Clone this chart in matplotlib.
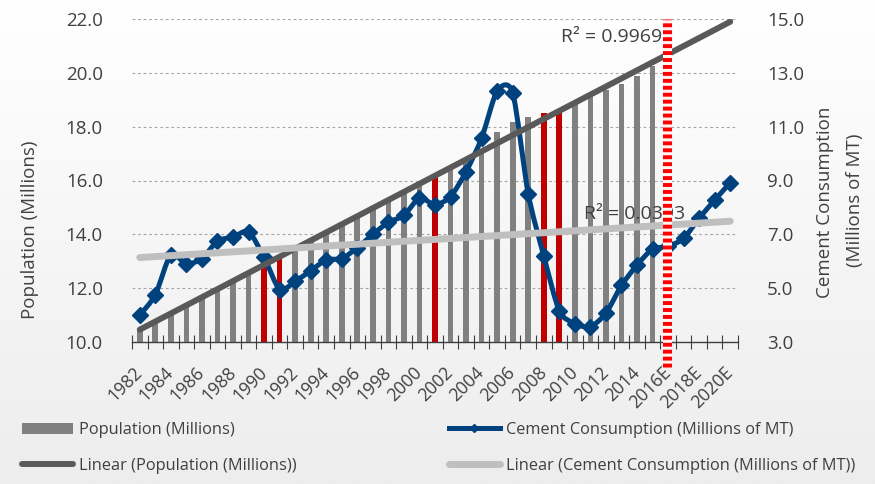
import numpy as np
import matplotlib.pyplot as plt
from matplotlib.path import Path
from matplotlib.patches import PathPatch, Patch
from matplotlib.lines import Line2D
from matplotlib.colors import LinearSegmentedColormap

plt.rcParams['font.family'] = ['Open Sans', 'DejaVu Sans']
plt.rcParams['lines.scale_dashes'] = False

# categories
years = [str(y) for y in range(1982, 2016)] + ['2016E', '2017E', '2018E', '2019E', '2020E']

# population (millions), 1982-2015
population = [10.42, 10.73, 11.05, 11.35, 11.67, 11.97, 12.29, 12.59, 12.88, 13.18,
              13.40, 13.74, 14.07, 14.37, 14.64, 14.93, 15.20, 15.50, 15.78, 16.12,
              16.40, 16.68, 17.07, 17.81, 18.16, 18.35, 18.52, 18.60, 18.84, 19.09,
              19.36, 19.58, 19.88, 20.26]

# cement consumption (millions of MT), 1982-2020E
cement = [4.00, 4.75, 6.25, 5.90, 6.10, 6.75, 6.90, 7.10, 6.15, 4.95,
          5.25, 5.65, 6.05, 6.10, 6.50, 7.00, 7.45, 7.70, 8.35, 8.10,
          8.40, 9.33, 10.57, 12.33, 12.26, 8.50, 6.20, 4.15, 3.68, 3.57,
          4.07, 5.10, 5.86, 6.45, 6.55, 6.85, 7.60, 8.27, 8.92]

recession_years = ['1990', '1991', '2001', '2008', '2009']
forecast_start = '2016E'
r2_population = 'R\u00b2 = 0.9969'
r2_cement = 'R\u00b2 = 0.0393'

navy = '#00427E'
txt = '#404040'

fig = plt.figure(figsize=(8.75, 4.84), dpi=100)

# soft background gradient
bg = fig.add_axes([0, 0, 1, 1], zorder=-10)
grad = np.linspace(0, 1, 256).reshape(-1, 1)
bg.imshow(grad, aspect='auto', cmap=LinearSegmentedColormap.from_list('bg', ['#FFFFFF', '#EDEDED']),
          extent=[0, 1, 0, 1], origin='upper')
bg.axis('off')

ax = fig.add_axes([132 / 875, 1 - 342 / 484, 606 / 875, 323 / 484])
ax.set_facecolor('none')
ax2 = ax.twinx()

n = len(years)
x = np.arange(n)

# bars
xp = np.arange(len(population))
bar_colors = ['#C00000' if years[i] in recession_years else '#808080' for i in xp]
ax.bar(xp, population, width=0.37, color=bar_colors, zorder=2)

ax.set_xlim(-0.5, n - 0.5)
ax.set_ylim(10, 22)
ax.set_yticks(np.arange(10, 23, 2))
ax.set_yticklabels(['%.1f' % v for v in np.arange(10, 23, 2)])
ax.yaxis.grid(True, color='#A6A6A6', linewidth=0.8, linestyle=(0, (2, 2)))
ax.set_axisbelow(True)

ax.set_xticks(x[::2])
ax.set_xticklabels(years[::2], rotation=45, ha='right', va='center', rotation_mode='anchor')
ax.set_xticks(np.arange(-0.5, n, 1), minor=True)
ax.tick_params(axis='x', which='major', length=0, pad=20, labelsize=12.8, labelcolor=txt)
ax.tick_params(axis='x', which='minor', direction='inout', length=10, width=0.8, color='#3F3F3F')
ax.tick_params(axis='y', length=0, pad=21, labelsize=13.5, labelcolor=txt)

for s in ['left', 'right', 'top']:
    ax.spines[s].set_visible(False)
    ax2.spines[s].set_visible(False)
ax.spines['bottom'].set_color('#3F3F3F')
ax.spines['bottom'].set_linewidth(1.0)
ax2.spines['bottom'].set_visible(False)

# cement, smoothed like the spreadsheet line
ax2.set_ylim(3, 15)
ax2.set_yticks(np.arange(3, 16, 2))
ax2.set_yticklabels(['%.1f' % v for v in np.arange(3, 16, 2)])
ax2.tick_params(axis='y', length=0, pad=21, labelsize=13.5, labelcolor=txt)

pts = np.column_stack([x, cement]).astype(float)
verts = [pts[0]]
codes = [Path.MOVETO]
k = 1 / 8
for i in range(n - 1):
    p0 = pts[max(i - 1, 0)]
    p1 = pts[i]
    p2 = pts[i + 1]
    p3 = pts[min(i + 2, n - 1)]
    verts += [p1 + (p2 - p0) * k, p2 - (p3 - p1) * k, p2]
    codes += [Path.CURVE4] * 3
ax2.add_patch(PathPatch(Path(verts, codes), facecolor='none', edgecolor=navy,
                        linewidth=3.6, zorder=2, capstyle='round', joinstyle='round'))
ax2.plot(x, cement, linestyle='none', marker='D', markersize=8.5, color=navy,
         markeredgewidth=1, zorder=2.5)

# linear trends
cp = np.polyfit(xp, population, 1)
ax2.plot([0, n - 1], np.polyval(cp, [0, n - 1]), color='#595959', linewidth=4.3,
         solid_capstyle='round', transform=ax.transData, zorder=3)
cc = np.polyfit(x, cement, 1)
ax2.plot([0, n - 1], np.polyval(cc, [0, n - 1]), color='#BFBFBF', linewidth=5,
         solid_capstyle='round', zorder=3)

ax2.text(33.6, 21.33, r2_population, ha='right', va='center', fontsize=14, color=txt,
         transform=ax.transData, zorder=4)
ax2.text(28.6, 14.75, r2_cement, ha='left', va='center', fontsize=14, color=txt,
         transform=ax.transData, zorder=4)

# forecast divider
fx = years.index(forecast_start) - 0.08
ax2.plot([fx, fx], [9.07, 22], color='#FFF4F4', linewidth=6.5, transform=ax.transData,
         clip_on=False, zorder=5, solid_capstyle='butt')
ax2.plot([fx, fx], [9.07, 22], color='#FF0000', linewidth=6.5, transform=ax.transData,
         clip_on=False, zorder=5.1, linestyle=(0, (2.8, 2.2)), dash_capstyle='butt')

# axis titles
fig.text(30 / 875, 1 - 230 / 484, 'Population (Millions)', rotation=90, ha='center',
         va='center', fontsize=13.5, color=txt)
fig.text(825 / 875, 1 - 202 / 484, 'Cement Consumption', rotation=90, ha='center',
         va='center', fontsize=13.5, color=txt)
fig.text(855 / 875, 1 - 200 / 484, '(Millions of MT)', rotation=90, ha='center',
         va='center', fontsize=13.5, color=txt)

# legend
h_pop = Patch(facecolor='#808080')
h_lpop = Line2D([], [], color='#595959', linewidth=4.3, solid_capstyle='round')
h_cem = Line2D([], [], color=navy, linewidth=3.6, marker='D', markersize=4)
h_lcem = Line2D([], [], color='#BFBFBF', linewidth=5, solid_capstyle='round')
kw = dict(frameon=False, fontsize=11.8, handlelength=3.1, handletextpad=0.35,
          labelspacing=1.2, borderpad=0, borderaxespad=0, loc='upper left', labelcolor=txt)
fig.legend([h_pop, h_lpop], ['Population (Millions)', 'Linear (Population (Millions))'],
           bbox_to_anchor=(22 / 875, 1 - 422 / 484), **kw)
fig.legend([h_cem, h_lcem], ['Cement Consumption (Millions of MT)',
                             'Linear (Cement Consumption (Millions of MT))'],
           bbox_to_anchor=(449 / 875, 1 - 422 / 484), **kw)

fig.savefig('out.png', dpi=100)
